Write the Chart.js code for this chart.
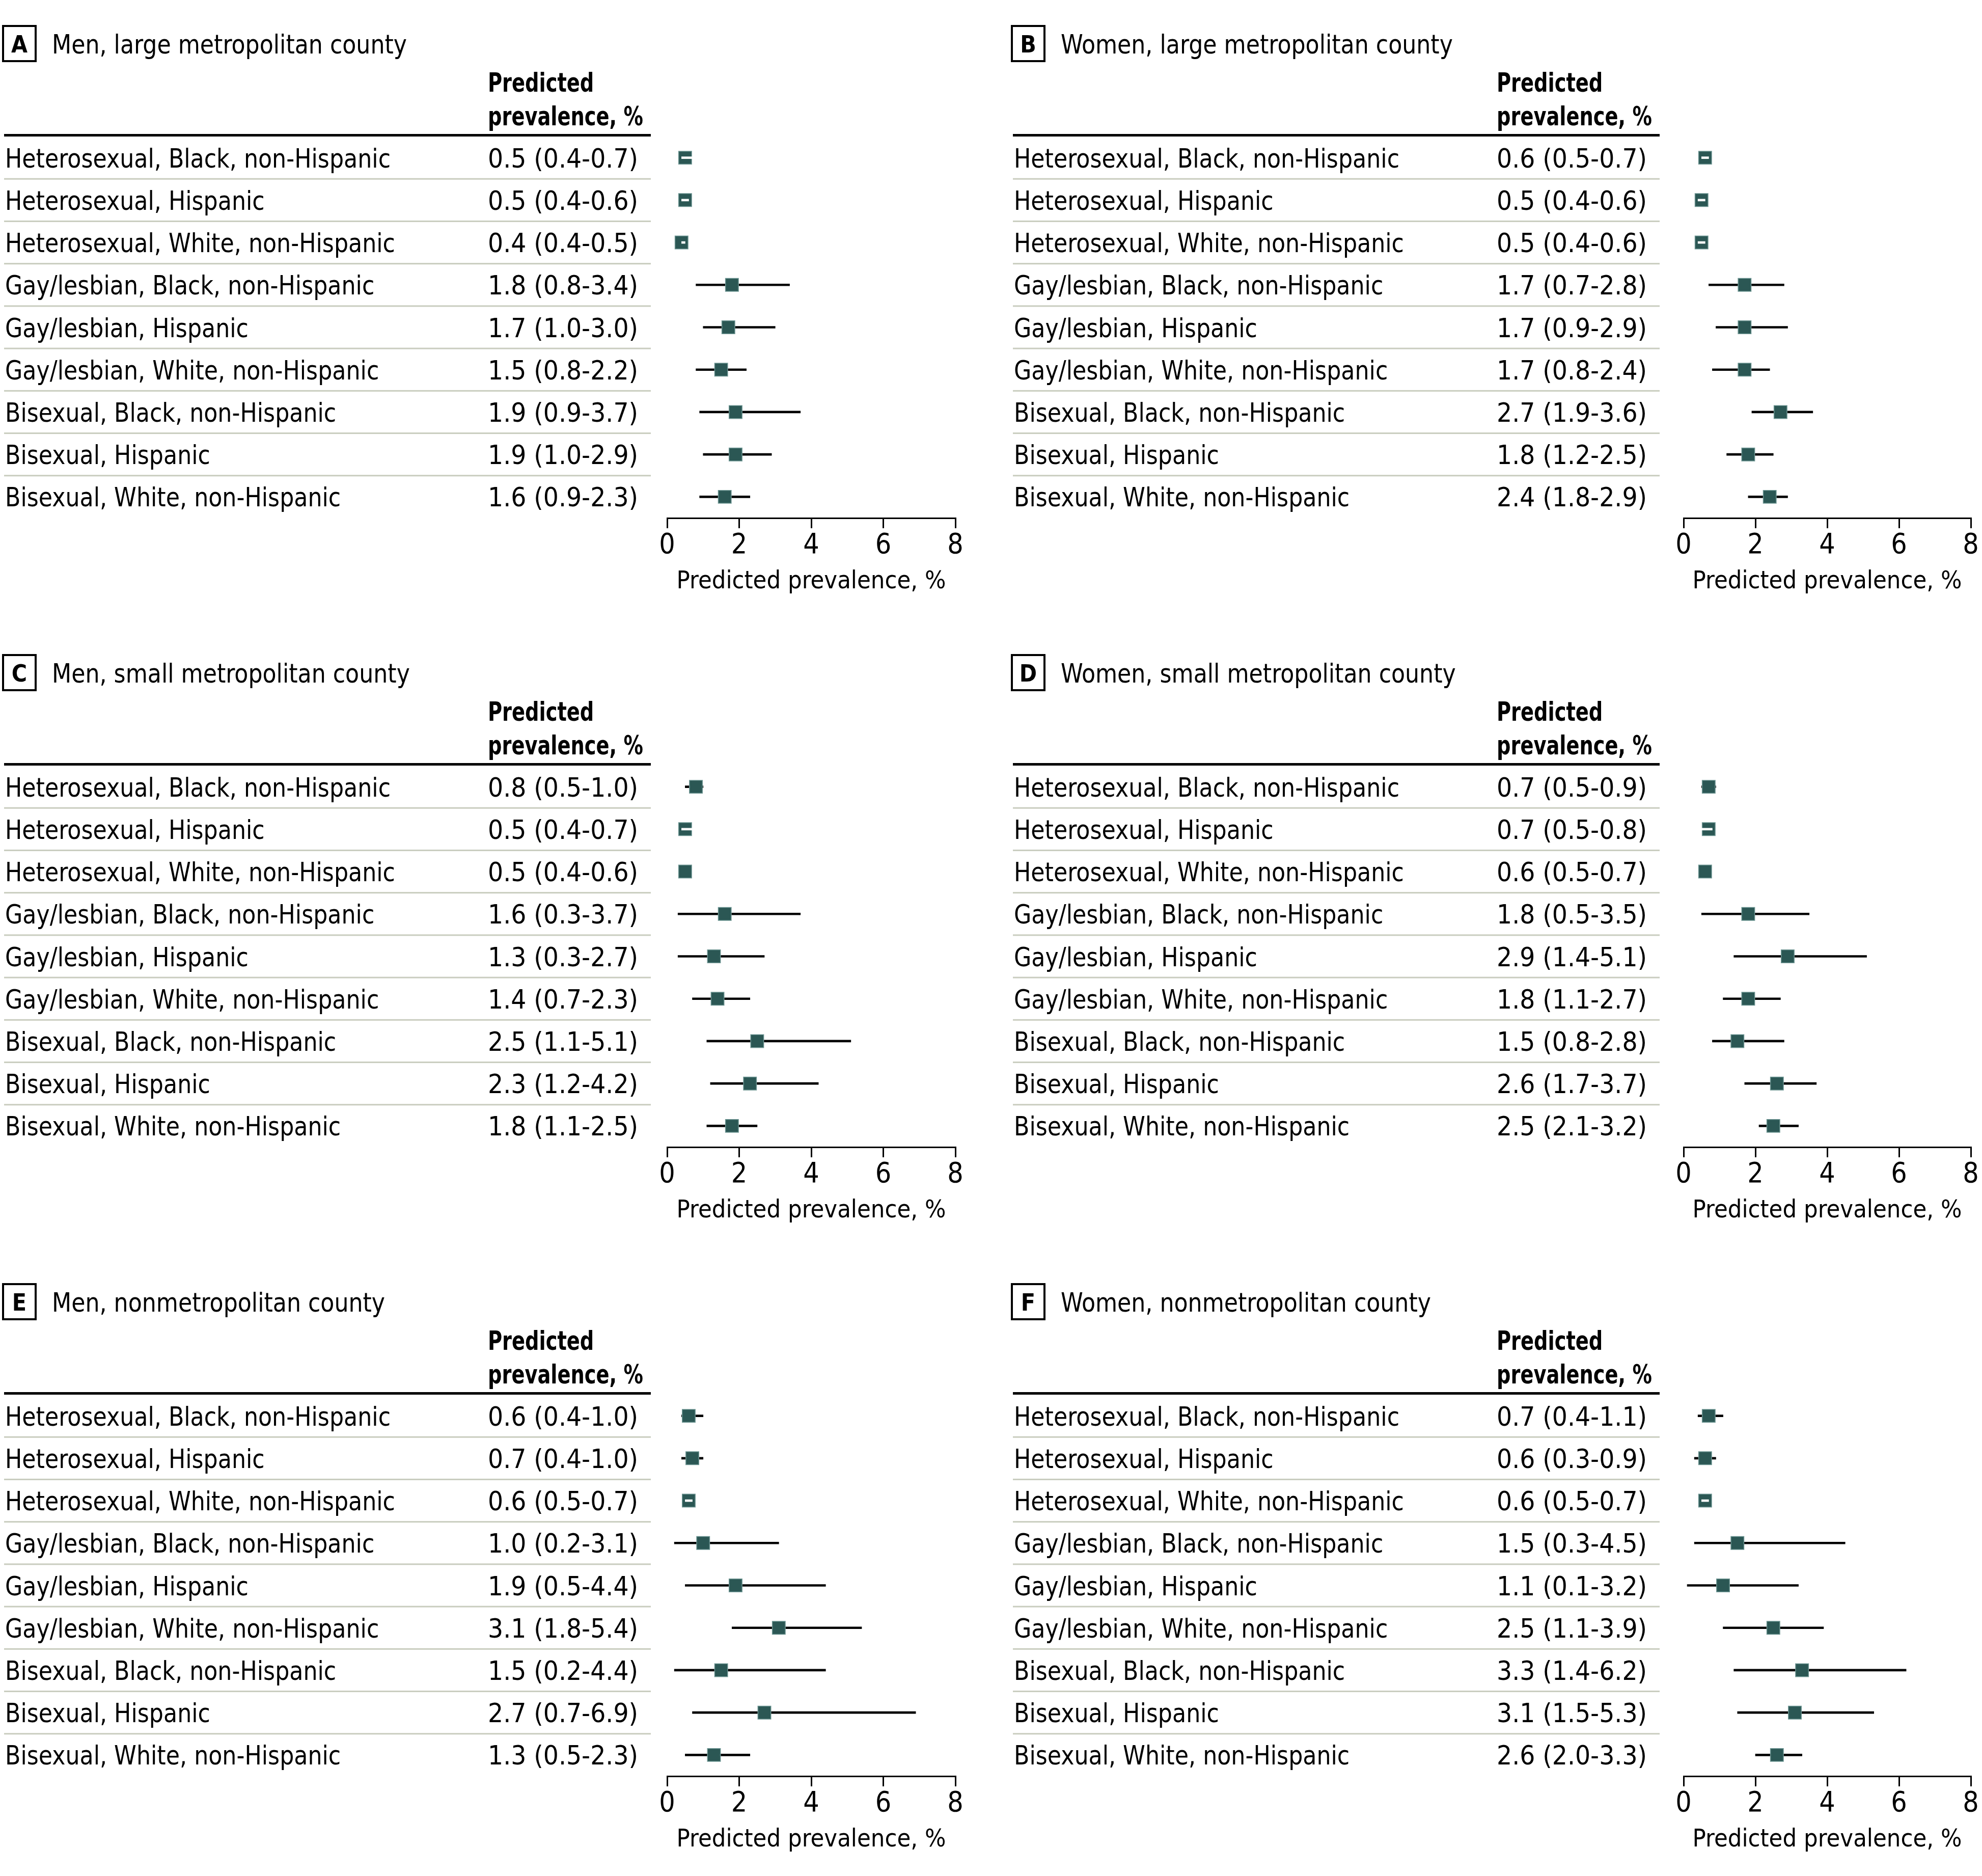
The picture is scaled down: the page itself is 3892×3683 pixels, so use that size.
<!DOCTYPE html>
<html>
<head>
<meta charset="utf-8">
<script src="https://cdn.jsdelivr.net/npm/chart.js@4.4.1/dist/chart.umd.min.js"></script>
<style>
html, body { margin: 0; padding: 0; background: #fff; overflow: hidden; }
#page { position: relative; width: 3892px; height: 3683px; }
canvas { position: absolute; }
</style>
</head>
<body>
<div id="page"></div>
<script>
// filas (iguales en los 6 paneles)
const rowLabels = [
    'Heterosexual, Black, non-Hispanic',
    'Heterosexual, Hispanic',
    'Heterosexual, White, non-Hispanic',
    'Gay/lesbian, Black, non-Hispanic',
    'Gay/lesbian, Hispanic',
    'Gay/lesbian, White, non-Hispanic',
    'Bisexual, Black, non-Hispanic',
    'Bisexual, Hispanic',
    'Bisexual, White, non-Hispanic'
];

const xTicks = [0, 2, 4, 6, 8];
const axisTitle = 'Predicted prevalence, %';

// A - hombres, metro grande
const estA  = [0.5, 0.5, 0.4, 1.8, 1.7, 1.5, 1.9, 1.9, 1.6];
const lowA  = [0.4, 0.4, 0.4, 0.8, 1.0, 0.8, 0.9, 1.0, 0.9];
const highA = [0.7, 0.6, 0.5, 3.4, 3.0, 2.2, 3.7, 2.9, 2.3];
// B - mujeres, metro grande
const estB  = [0.6, 0.5, 0.5, 1.7, 1.7, 1.7, 2.7, 1.8, 2.4];
const lowB  = [0.5, 0.4, 0.4, 0.7, 0.9, 0.8, 1.9, 1.2, 1.8];
const highB = [0.7, 0.6, 0.6, 2.8, 2.9, 2.4, 3.6, 2.5, 2.9];
// C - hombres, metro pequeño
const estC  = [0.8, 0.5, 0.5, 1.6, 1.3, 1.4, 2.5, 2.3, 1.8];
const lowC  = [0.5, 0.4, 0.4, 0.3, 0.3, 0.7, 1.1, 1.2, 1.1];
const highC = [1.0, 0.7, 0.6, 3.7, 2.7, 2.3, 5.1, 4.2, 2.5];
// D - mujeres, metro pequeño
const estD  = [0.7, 0.7, 0.6, 1.8, 2.9, 1.8, 1.5, 2.6, 2.5];
const lowD  = [0.5, 0.5, 0.5, 0.5, 1.4, 1.1, 0.8, 1.7, 2.1];
const highD = [0.9, 0.8, 0.7, 3.5, 5.1, 2.7, 2.8, 3.7, 3.2];
// E - hombres, no metro
const estE  = [0.6, 0.7, 0.6, 1.0, 1.9, 3.1, 1.5, 2.7, 1.3];
const lowE  = [0.4, 0.4, 0.5, 0.2, 0.5, 1.8, 0.2, 0.7, 0.5];
const highE = [1.0, 1.0, 0.7, 3.1, 4.4, 5.4, 4.4, 6.9, 2.3];
// F - mujeres, no metro
const estF  = [0.7, 0.6, 0.6, 1.5, 1.1, 2.5, 3.3, 3.1, 2.6];
const lowF  = [0.4, 0.3, 0.5, 0.3, 0.1, 1.1, 1.4, 1.5, 2.0];
const highF = [1.1, 0.9, 0.7, 4.5, 3.2, 3.9, 6.2, 5.3, 3.3];

// filas donde el IC cabe dentro del marcador (linea blanca)
const whiteA = [0, 1, 2];
const whiteB = [0, 1, 2];
const whiteC = [1];
const whiteD = [1];
const whiteE = [2];
const whiteF = [2];
// filas donde el IC queda totalmente oculto
const hiddenC = [2];
const hiddenD = [2];

const panels = [
    {letter: 'A', title: 'Men, large metropolitan county',   est: estA, low: lowA, high: highA, white: whiteA, hidden: []},
    {letter: 'B', title: 'Women, large metropolitan county', est: estB, low: lowB, high: highB, white: whiteB, hidden: []},
    {letter: 'C', title: 'Men, small metropolitan county',   est: estC, low: lowC, high: highC, white: whiteC, hidden: hiddenC},
    {letter: 'D', title: 'Women, small metropolitan county', est: estD, low: lowD, high: highD, white: whiteD, hidden: hiddenD},
    {letter: 'E', title: 'Men, nonmetropolitan county',      est: estE, low: lowE, high: highE, white: whiteE, hidden: []},
    {letter: 'F', title: 'Women, nonmetropolitan county',    est: estF, low: lowF, high: highF, white: whiteF, hidden: []}
];

//colores
const markerColor = '#2b5754';
const markerEdge = '#6e9693';
const sepColor = '#c9cdbf';

// fuente condensada si existe
function fontExists(name) {
    const c = document.createElement('canvas').getContext('2d');
    const s = 'Heterosexual, Black, non-Hispanic 0123456789';
    c.font = '50px monospace'; const a = c.measureText(s).width;
    c.font = '50px "' + name + '", monospace'; const b = c.measureText(s).width;
    c.font = '50px serif'; const a2 = c.measureText(s).width;
    c.font = '50px "' + name + '", serif'; const b2 = c.measureText(s).width;
    return a !== b || a2 !== b2;
}
let fam = 'Liberation Sans';
for (const f of ['Liberation Sans Narrow', 'DejaVu Sans Condensed', 'Roboto Condensed', 'Liberation Sans']) {
    if (fontExists(f)) { fam = f; break; }
}
const fNormal = '52px "' + fam + '"';
const fBold = 'bold 52px "' + fam + '"';

const mctx = document.createElement('canvas').getContext('2d');
mctx.font = fNormal;
const sxN = Math.min(1, 757 / mctx.measureText(rowLabels[0]).width);
const sxV = Math.min(1.1, 295 / mctx.measureText('0.5 (0.4-0.7)').width);
const sxT = Math.min(1, 697 / mctx.measureText('Men, large metropolitan county').width);
mctx.font = fBold;
const sxB = Math.min(1, 305 / mctx.measureText('prevalence, %').width);
mctx.font = '50px "' + fam + '"';
const axisTitleSize = Math.min(52, 50 * 529 / mctx.measureText(axisTitle).width);

function fmt(e, l, h) {
    return e.toFixed(1) + ' (' + l.toFixed(1) + '-' + h.toFixed(1) + ')';
}

function drawText(ctx, s, x, y, font, sx) {
    ctx.save();
    ctx.font = font;
    ctx.textAlign = 'left';
    ctx.textBaseline = 'alphabetic';
    ctx.translate(x, y);
    ctx.scale(sx, 1);
    ctx.fillText(s, 0, 0);
    ctx.restore();
}

// tabla de la izquierda de cada panel
function makeTable(p) {
    return {
        id: 'tabla' + p.letter,
        afterDraw(chart) {
            const ctx = chart.ctx;
            const ys = chart.scales.y;
            const top = chart.chartArea.top;
            ctx.save();
            ctx.fillStyle = '#000';
            ctx.strokeStyle = '#000';
            ctx.lineWidth = 4;
            ctx.strokeRect(6, 51, 64, 69);
            ctx.font = 'bold 46px "' + fam + '"';
            ctx.textAlign = 'center';
            ctx.textBaseline = 'alphabetic';
            ctx.fillText(p.letter, 38, 103);

            drawText(ctx, p.title, 102, 105, fNormal, sxT);
            drawText(ctx, 'Predicted', 958, 180, fBold, sxB);
            drawText(ctx, 'prevalence, %', 958, 246, fBold, sxB);

            ctx.fillStyle = '#000';
            ctx.fillRect(8, top - 5, 1270, 5);

            for (let i = 0; i < rowLabels.length; i++) {
                const yc = ys.getPixelForValue(i);
                ctx.fillStyle = '#000';
                drawText(ctx, rowLabels[i], 10, yc + 19, fNormal, sxN);
                drawText(ctx, fmt(p.est[i], p.low[i], p.high[i]), 958, yc + 19, fNormal, sxV);
                if (i < rowLabels.length - 1) {
                    const ym = ys.getPixelForValue(i + 0.5);
                    ctx.fillStyle = sepColor;
                    ctx.fillRect(8, ym - 1.5, 1270, 3);
                }
            }
            ctx.restore();
        }
    };
}

const page = document.getElementById('page');
const panelH = 1235;

panels.forEach((p, k) => {
    const col = k % 2;
    const row = Math.floor(k / 2);
    const left = col === 0 ? 0 : 1981;
    const width = col === 0 ? 1960 : 1911;
    const axisL = col === 0 ? 1310 : 1325;
    const axisR = col === 0 ? 1876 : 1889;

    const canvas = document.createElement('canvas');
    canvas.width = width;
    canvas.height = panelH;
    canvas.style.left = left + 'px';
    canvas.style.top = (row * panelH) + 'px';
    page.appendChild(canvas);

    const ciBlack = p.est.map((e, i) =>
        (p.white.includes(i) || p.hidden.includes(i)) ? null : [p.low[i], p.high[i]]);
    const ciWhite = p.est.map((e, i) => p.white.includes(i) ? [p.low[i], p.high[i]] : null);
    const points = p.est.map((e, i) => ({x: e, y: i}));

    new Chart(canvas.getContext('2d'), {
        type: 'bar',
        data: {
            labels: rowLabels,
            datasets: [
                {
                    type: 'bar',
                    indexAxis: 'y',
                    data: ciWhite,
                    backgroundColor: '#ffffff',
                    barThickness: 4,
                    grouped: false,
                    order: 0
                },
                {
                    type: 'scatter',
                    data: points,
                    pointStyle: 'rect',
                    pointRadius: 18,
                    pointBackgroundColor: markerColor,
                    pointBorderColor: markerEdge,
                    pointBorderWidth: 1.5,
                    order: 1
                },
                {
                    type: 'bar',
                    indexAxis: 'y',
                    data: ciBlack,
                    backgroundColor: '#000000',
                    barThickness: 4,
                    grouped: false,
                    order: 2
                }
            ]
        },
        options: {
            responsive: false,
            animation: false,
            devicePixelRatio: 1,
            events: [],
            layout: {
                padding: {left: axisL, right: width - axisR, top: 268, bottom: panelH - 268 - 749 - 155}
            },
            plugins: {
                legend: {display: false},
                tooltip: {enabled: false}
            },
            scales: {
                x: {
                    type: 'linear',
                    offset: false,
                    min: xTicks[0],
                    max: xTicks[xTicks.length - 1],
                    afterBuildTicks: scale => { scale.ticks = xTicks.map(v => ({value: v})); },
                    afterFit: scale => { scale.height = 155; },
                    border: {display: true, color: '#000', width: 3},
                    grid: {offset: false, drawOnChartArea: false, drawTicks: true, tickLength: 20, color: '#000', lineWidth: 3},
                    ticks: {color: '#000', padding: 2, font: {family: fam, size: 55}},
                    title: {display: true, text: axisTitle, color: '#000', padding: 0,
                            font: {family: fam, size: axisTitleSize, lineHeight: 1.2}}
                },
                y: {
                    type: 'category',
                    labels: rowLabels,
                    offset: true,
                    display: false
                }
            }
        },
        plugins: [makeTable(p)]
    });
});
</script>
</body>
</html>
